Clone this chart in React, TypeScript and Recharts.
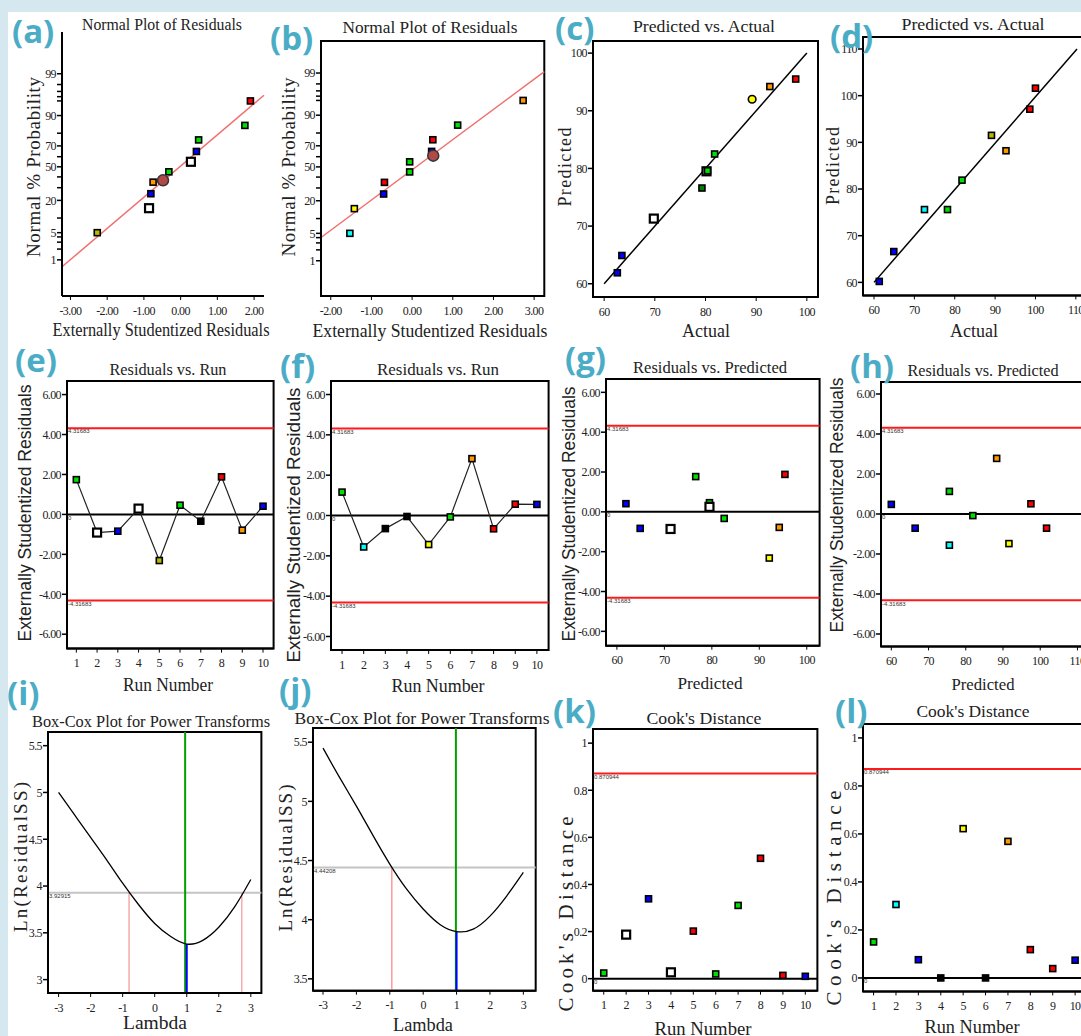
import React from 'react';
import { ComposedChart, Scatter, Line, XAxis, YAxis, ReferenceLine, ReferenceArea } from 'recharts';

const serif = '"Liberation Serif", "Times New Roman", serif';
const sans = '"Liberation Sans", Arial, sans-serif';

const C: Record<string, string> = {
  blue: '#0000ff', green: '#00e000', dgreen: '#008000', red: '#ff0000', orange: '#ff9900',
  yellow: '#ffff00', olive: '#b8b800', cyan: '#00ffff', white: '#ffffff', black: '#000000',
};

// ---- data ----
const probPct = [5, 15, 25, 35, 45, 55, 65, 75, 85, 95];

const aResid = [-2.27, -0.86, -0.81, -0.75, -0.32, 0.28, 0.43, 0.49, 1.75, 1.9];
const aColors = ['olive', 'white', 'blue', 'orange', 'green', 'white', 'blue', 'green', 'green', 'red'];
const aKinds = ['s', 'b', 's', 's', 's', 'b', 's', 's', 's', 's'];
const aHighlight = { x: -0.48, p: 36.7 };
const aFit = [{ x: -3.23, z: -2.5 }, { x: 2.27, z: 1.79 }];

const bResid = [-1.53, -1.42, -0.7, -0.68, -0.06, -0.06, 0.48, 0.51, 1.12, 2.73];
const bColors = ['cyan', 'yellow', 'blue', 'red', 'green', 'green', 'blue', 'red', 'green', 'orange'];
const bHighlight = { x: 0.52, p: 61 };
const bFit = [{ x: -2.24, z: -1.75 }, { x: 3.25, z: 2.36 }];

const cActual = [62.6, 63.5, 69.8, 79.3, 80.2, 80.4, 81.8, 89.2, 92.7, 97.8];
const cPred = [61.9, 64.9, 71.3, 76.6, 79.5, 79.6, 82.5, 92.0, 94.2, 95.5];
const cColors = ['blue', 'blue', 'white', 'dgreen', 'white', 'green', 'green', 'yellow', 'orange', 'red'];
const cKinds = ['s', 's', 'b', 's', 'b', 's', 's', 'c', 's', 's'];

const dActual = [61.3, 64.9, 72.5, 78.2, 81.8, 89.1, 92.7, 98.6, 100.0];
const dPred = [60.2, 66.6, 75.6, 75.6, 81.9, 91.5, 88.2, 97.1, 101.6];
const dColors = ['blue', 'blue', 'cyan', 'green', 'green', 'olive', 'orange', 'red', 'red'];

const runs = [1, 2, 3, 4, 5, 6, 7, 8, 9, 10];
const eResid = [1.74, -0.91, -0.84, 0.29, -2.31, 0.46, -0.34, 1.88, -0.79, 0.41];
const eColors = ['green', 'white', 'blue', 'white', 'olive', 'green', 'black', 'red', 'orange', 'blue'];
const eKinds = ['s', 'b', 's', 'b', 's', 's', 's', 's', 's', 's'];

const fResid = [1.16, -1.56, -0.65, -0.05, -1.44, -0.07, 2.82, -0.66, 0.56, 0.55];
const fColors = ['green', 'cyan', 'black', 'black', 'yellow', 'green', 'orange', 'red', 'red', 'blue'];

const gPred = [61.9, 64.9, 71.3, 76.6, 79.5, 79.5, 82.6, 92.1, 94.2, 95.4];
const gResid = [0.41, -0.83, -0.86, 1.77, 0.46, 0.25, -0.33, -2.32, -0.78, 1.88];
const gColors = ['blue', 'blue', 'white', 'green', 'green', 'white', 'green', 'yellow', 'orange', 'red'];
const gKinds = ['s', 's', 'b', 's', 's', 'b', 's', 's', 's', 's'];

const hPred = [60.0, 66.4, 75.6, 75.6, 81.9, 88.3, 91.6, 97.5, 101.7];
const hResid = [0.48, -0.71, 1.13, -1.56, -0.08, 2.78, -1.48, 0.51, -0.71];
const hColors = ['blue', 'blue', 'green', 'cyan', 'green', 'orange', 'yellow', 'red', 'red'];

const lambdas = [-3, -2.5, -2, -1.5, -1, -0.5, 0, 0.5, 1, 1.5, 2, 2.5, 3];
const iLnSS = [5.0, 4.76, 4.52, 4.28, 4.03, 3.8, 3.6, 3.46, 3.38, 3.42, 3.56, 3.78, 4.07];
const jLnSS = [5.45, 5.2, 4.96, 4.71, 4.47, 4.26, 4.09, 3.96, 3.9, 3.92, 4.03, 4.2, 4.4];

const kCook = [0.024, 0.187, 0.339, 0.027, 0.202, 0.02, 0.311, 0.511, 0.014, 0.01];
const kColors = ['green', 'white', 'blue', 'white', 'red', 'green', 'green', 'red', 'red', 'blue'];
const kKinds = ['s', 'b', 's', 'b', 's', 's', 's', 's', 's', 's'];

const lCook = [0.15, 0.306, 0.076, 0.0, 0.622, 0.0, 0.569, 0.118, 0.039, 0.074];
const lColors = ['green', 'cyan', 'blue', 'black', 'yellow', 'black', 'orange', 'red', 'red', 'blue'];

const probTicks = [1, 2, 3, 4, 5, 10, 20, 30, 40, 50, 60, 70, 80, 90, 95, 96, 97, 98, 99];
const probLabels = [1, 5, 20, 50, 70, 90, 99];
const limitT = 4.31683;
const cookLimit = 0.870944;

// approx. inverse normal (percent -> z)
const probit = (pct: number) => {
  const p = pct / 100;
  return 4.91 * (Math.pow(p, 0.14) - Math.pow(1 - p, 0.14));
};

const pts = (xs: number[], ys: number[], colors: string[], kinds?: string[]) =>
  xs.map((x, i) => ({ x, y: ys[i], color: C[colors[i]], kind: kinds ? kinds[i] : 's' }));

const Marker = (props: any) => {
  const { cx, cy, payload } = props;
  if (cx == null || cy == null) return null;
  const kind = payload?.kind || 's';
  if (kind === 'hc') return <circle cx={cx} cy={cy} r={5.5} fill="#b04a48" stroke="#333" strokeWidth={1.5} />;
  if (kind === 'c') return <circle cx={cx} cy={cy} r={3.8} fill={payload.color} stroke="#000" strokeWidth={1.6} />;
  const s = kind === 'b' ? 8 : 6;
  return (
    <rect x={cx - s / 2} y={cy - s / 2} width={s} height={s} fill={payload.color}
      stroke="#000" strokeWidth={kind === 'b' ? 2.2 : 1.6} />
  );
};

const tickFont = { fontSize: 12, fill: '#222', fontFamily: serif, letterSpacing: -0.6 };
const axisLine = { stroke: '#000', strokeWidth: 2 };

type PanelProps = {
  box: [number, number, number, number];
  xDomain: [number, number];
  yDomain: [number, number];
  xTicks: number[];
  yTicks: number[];
  xFmt?: (v: number, i: number) => string;
  yFmt?: (v: number, i: number) => string;
  frame?: boolean;
  data?: any[];
  children?: React.ReactNode;
};

function Panel({ box, xDomain, yDomain, xTicks, yTicks, xFmt, yFmt, frame = true, data, children }: PanelProps) {
  const [x0, y0, x1, y1] = box;
  const YW = 45, XH = 30, MT = 5, MR = 5;
  return (
    <div style={{ position: 'absolute', left: x0 - YW, top: y0 - MT }}>
      <ComposedChart width={x1 - x0 + YW + MR} height={y1 - y0 + MT + XH} data={data}
        margin={{ top: MT, right: MR, left: 0, bottom: 0 }}>
        <XAxis type="number" dataKey="x" domain={xDomain} ticks={xTicks} allowDataOverflow interval={0}
          height={XH} tickFormatter={xFmt} tick={tickFont} tickSize={4} tickMargin={6}
          axisLine={axisLine} tickLine={{ stroke: '#000' }} />
        <YAxis type="number" dataKey="y" domain={yDomain} ticks={yTicks} allowDataOverflow interval={0}
          width={YW} tickFormatter={yFmt} tick={tickFont} tickSize={5} tickMargin={1}
          axisLine={axisLine} tickLine={{ stroke: '#000', strokeWidth: 1.5 }} />
        {frame && (
          <ReferenceArea x1={xDomain[0]} x2={xDomain[1]} y1={yDomain[0]} y2={yDomain[1]}
            fill="none" fillOpacity={0} stroke="#000" strokeWidth={2} ifOverflow="visible" />
        )}
        {children}
      </ComposedChart>
    </div>
  );
}

const smallLabel = (value: string) => ({ value, position: 'insideTopLeft' as const, fontSize: 6, fill: '#333', offset: 1, fontFamily: sans });

const probFmt = (_v: number, i: number) => (probLabels.includes(probTicks[i]) ? String(probTicks[i]) : '');
const fix2 = (v: number) => v.toFixed(2);
const plain = (v: number) => String(v);

const residLines = (withZero = true) => [
  <ReferenceLine key="up" y={limitT} stroke="#ff1a1a" strokeWidth={2} label={smallLabel('4.31683')} />,
  <ReferenceLine key="dn" y={-limitT} stroke="#ff1a1a" strokeWidth={2} label={smallLabel('-4.31683')} />,
  withZero ? <ReferenceLine key="z" y={0} stroke="#000" strokeWidth={2} label={smallLabel('0')} /> : null,
];

type TextSpec = { t: string; x: number; y: number; len: number; size: number; font: string; rot?: boolean; spaced?: boolean };

const texts: TextSpec[] = [
  { t: 'Normal Plot of Residuals', x: 162, y: 30, len: 160, size: 17, font: serif },
  { t: 'Normal Plot of Residuals', x: 430, y: 33, len: 175, size: 17, font: serif },
  { t: 'Predicted vs. Actual', x: 704, y: 32, len: 142, size: 17, font: serif },
  { t: 'Predicted vs. Actual', x: 973, y: 30, len: 143, size: 17, font: serif },
  { t: 'Residuals vs. Run', x: 168, y: 375, len: 117, size: 17, font: serif },
  { t: 'Residuals vs. Run', x: 438, y: 375, len: 122, size: 17, font: serif },
  { t: 'Residuals vs. Predicted', x: 710, y: 373, len: 154, size: 17, font: serif },
  { t: 'Residuals vs. Predicted', x: 983, y: 376, len: 151, size: 17, font: serif },
  { t: 'Box-Cox Plot for Power Transforms', x: 151, y: 727, len: 238, size: 17, font: serif },
  { t: 'Box-Cox Plot for Power Transforms', x: 422, y: 724, len: 255, size: 17, font: serif },
  { t: "Cook's Distance", x: 704, y: 724, len: 115, size: 17, font: serif },
  { t: "Cook's Distance", x: 973, y: 717, len: 113, size: 17, font: serif },

  { t: 'Externally Studentized Residuals', x: 161, y: 336, len: 217, size: 18, font: serif },
  { t: 'Externally Studentized Residuals', x: 430, y: 337, len: 235, size: 18, font: serif },
  { t: 'Actual', x: 706, y: 337, len: 48, size: 18, font: serif },
  { t: 'Actual', x: 974, y: 337, len: 48, size: 18, font: serif },
  { t: 'Run Number', x: 168, y: 691, len: 90, size: 18, font: serif },
  { t: 'Run Number', x: 438, y: 692, len: 93, size: 18, font: serif },
  { t: 'Predicted', x: 710, y: 689, len: 65, size: 17, font: serif },
  { t: 'Predicted', x: 983, y: 690, len: 63, size: 17, font: serif },
  { t: 'Lambda', x: 155, y: 1029, len: 64, size: 18, font: serif },
  { t: 'Lambda', x: 423, y: 1031, len: 60, size: 18, font: serif },
  { t: 'Run Number', x: 703, y: 1035, len: 97, size: 18, font: serif },
  { t: 'Run Number', x: 972, y: 1033, len: 95, size: 18, font: serif },

  { t: 'Normal % Probability', x: 40, y: 167, len: 180, size: 19, font: serif, rot: true, spaced: true },
  { t: 'Normal % Probability', x: 295, y: 167, len: 179, size: 19, font: serif, rot: true, spaced: true },
  { t: 'Predicted', x: 571, y: 167, len: 79, size: 18, font: serif, rot: true, spaced: true },
  { t: 'Predicted', x: 839, y: 166, len: 78, size: 18, font: serif, rot: true, spaced: true },
  { t: 'Externally Studentized Residuals', x: 31, y: 513, len: 257, size: 17.5, font: sans, rot: true },
  { t: 'Externally Studentized Residuals', x: 300, y: 525, len: 275, size: 17.5, font: sans, rot: true },
  { t: 'Externally Studentized Residuals', x: 575, y: 514, len: 255, size: 17.5, font: sans, rot: true },
  { t: 'Externally Studentized Residuals', x: 843, y: 505, len: 255, size: 17.5, font: sans, rot: true },
  { t: 'Ln(ResidualSS)', x: 27, y: 857, len: 150, size: 19, font: serif, rot: true, spaced: true },
  { t: 'Ln(ResidualSS)', x: 292, y: 858, len: 147, size: 19, font: serif, rot: true, spaced: true },
  { t: "Cook's Distance", x: 573, y: 914, len: 195, size: 21, font: serif, rot: true, spaced: true },
  { t: "Cook's Distance", x: 841, y: 898, len: 215, size: 21, font: serif, rot: true, spaced: true },
];

const letters: [string, number, number][] = [
  ['(a)', 12, 43], ['(b)', 270, 50], ['(c)', 555, 40], ['(d)', 830, 48],
  ['(e)', 15, 372], ['(f)', 280, 378], ['(g)', 565, 370], ['(h)', 850, 378],
  ['(i)', 7, 705], ['(j)', 279, 702], ['(k)', 553, 723], ['(l)', 835, 723],
];

export default function App() {
  const aPts = [...pts(aResid, probPct.map(probit), aColors, aKinds), { x: aHighlight.x, y: probit(aHighlight.p), color: '', kind: 'hc' }];
  const bPts = [...pts(bResid, probPct.map(probit), bColors), { x: bHighlight.x, y: probit(bHighlight.p), color: '', kind: 'hc' }];
  const iCurve = lambdas.map((x, i) => ({ x, y: iLnSS[i] }));
  const jCurve = lambdas.map((x, i) => ({ x, y: jLnSS[i] }));
  const zTicks = probTicks.map(probit);

  return (
    <div style={{ position: 'absolute', left: 0, top: 0, width: 1081, height: 1036, overflow: 'hidden', background: '#d5e8f0' }}>
      <div style={{ position: 'absolute', left: 8, top: 12, width: 1073, height: 1024, background: '#fff' }} />

      {/* (a) */}
      <Panel box={[62, 32, 264, 296]} xDomain={[-3.23, 2.27]} yDomain={[-3.23, 3.37]} frame={false}
        xTicks={[-3, -2, -1, 0, 1, 2]} xFmt={fix2} yTicks={zTicks} yFmt={probFmt}>
        <ReferenceLine segment={[{ x: aFit[0].x, y: aFit[0].z }, { x: aFit[1].x, y: aFit[1].z }]} stroke="#f07070" strokeWidth={1.5} ifOverflow="visible" />
        <Scatter data={aPts} shape={Marker} isAnimationActive={false} />
      </Panel>

      {/* (b) */}
      <Panel box={[320.7, 40.7, 544, 295.7]} xDomain={[-2.24, 3.25]} yDomain={[-3.2, 3.12]}
        xTicks={[-2, -1, 0, 1, 2, 3]} xFmt={fix2} yTicks={zTicks} yFmt={probFmt}>
        <ReferenceLine segment={[{ x: bFit[0].x, y: bFit[0].z }, { x: bFit[1].x, y: bFit[1].z }]} stroke="#f07070" strokeWidth={1.5} ifOverflow="visible" />
        <Scatter data={bPts} shape={Marker} isAnimationActive={false} />
      </Panel>

      {/* (c) */}
      <Panel box={[593.3, 40.7, 818.3, 296.7]} xDomain={[57.8, 102.2]} yDomain={[57.7, 102.1]}
        xTicks={[60, 70, 80, 90, 100]} yTicks={[60, 70, 80, 90, 100]} xFmt={plain} yFmt={plain}>
        <ReferenceLine segment={[{ x: 60, y: 60 }, { x: 100, y: 100 }]} stroke="#000" strokeWidth={1.5} ifOverflow="visible" />
        <Scatter data={pts(cActual, cPred, cColors, cKinds)} shape={Marker} isAnimationActive={false} />
      </Panel>

      {/* (d) */}
      <Panel box={[862.7, 37.3, 1084, 295.7]} xDomain={[57.27, 112.1]} yDomain={[57.21, 112.57]}
        xTicks={[60, 70, 80, 90, 100, 110]} yTicks={[60, 70, 80, 90, 100, 110]} xFmt={plain} yFmt={plain}>
        <ReferenceLine segment={[{ x: 60, y: 60 }, { x: 110.3, y: 110 }]} stroke="#000" strokeWidth={1.5} ifOverflow="visible" />
        <Scatter data={pts(dActual, dPred, dColors)} shape={Marker} isAnimationActive={false} />
      </Panel>

      {/* (e) */}
      <Panel box={[66.7, 380.7, 273.3, 648.3]} xDomain={[0.55, 10.51]} yDomain={[-6.72, 6.68]}
        xTicks={runs} yTicks={[-6, -4, -2, 0, 2, 4, 6]} xFmt={plain} yFmt={fix2}>
        {residLines()}
        <Scatter data={pts(runs, eResid, eColors, eKinds)} shape={Marker} line={{ stroke: '#222', strokeWidth: 1.2 }} isAnimationActive={false} />
      </Panel>

      {/* (f) */}
      <Panel box={[330.7, 381, 548.3, 650]} xDomain={[0.49, 10.54]} yDomain={[-6.67, 6.67]}
        xTicks={runs} yTicks={[-6, -4, -2, 0, 2, 4, 6]} xFmt={plain} yFmt={fix2}>
        {residLines()}
        <Scatter data={pts(runs, fResid, fColors)} shape={Marker} line={{ stroke: '#222', strokeWidth: 1.2 }} isAnimationActive={false} />
      </Panel>

      {/* (g) */}
      <Panel box={[605.7, 379.3, 819.3, 646]} xDomain={[57.7, 102.7]} yDomain={[-6.72, 6.67]}
        xTicks={[60, 70, 80, 90, 100]} yTicks={[-6, -4, -2, 0, 2, 4, 6]} xFmt={plain} yFmt={fix2}>
        {residLines()}
        <Scatter data={pts(gPred, gResid, gColors, gKinds)} shape={Marker} isAnimationActive={false} />
      </Panel>

      {/* (h) */}
      <Panel box={[880.7, 382.3, 1084, 646.7]} xDomain={[57.23, 111.84]} yDomain={[-6.62, 6.6]}
        xTicks={[60, 70, 80, 90, 100, 110]} yTicks={[-6, -4, -2, 0, 2, 4, 6]} xFmt={plain} yFmt={fix2}>
        {residLines()}
        <Scatter data={pts(hPred, hResid, hColors)} shape={Marker} isAnimationActive={false} />
      </Panel>

      {/* (i) */}
      <Panel box={[48.3, 732.3, 261.7, 993.3]} xDomain={[-3.33, 3.33]} yDomain={[2.857, 5.646]} data={iCurve}
        xTicks={[-3, -2, -1, 0, 1, 2, 3]} yTicks={[3, 3.5, 4, 4.5, 5, 5.5]} xFmt={plain} yFmt={plain}>
        <ReferenceLine y={3.92915} stroke="#c4c4c4" strokeWidth={2} label={smallLabel('3.92915')} />
        <ReferenceLine segment={[{ x: -0.8, y: 2.857 }, { x: -0.8, y: 3.92915 }]} stroke="#f08080" strokeWidth={1} ifOverflow="visible" />
        <ReferenceLine segment={[{ x: 2.72, y: 2.857 }, { x: 2.72, y: 3.92915 }]} stroke="#f08080" strokeWidth={1} ifOverflow="visible" />
        <ReferenceLine x={0.95} stroke="#00a000" strokeWidth={2} />
        <ReferenceLine segment={[{ x: 1, y: 2.857 }, { x: 1, y: 3.38 }]} stroke="#0000ff" strokeWidth={2} ifOverflow="visible" />
        <Line dataKey="y" type="natural" stroke="#000" strokeWidth={1.3} dot={false} isAnimationActive={false} />
      </Panel>

      {/* (j) */}
      <Panel box={[313.3, 728.3, 536, 991]} xDomain={[-3.3, 3.37]} yDomain={[3.4, 5.62]} data={jCurve}
        xTicks={[-3, -2, -1, 0, 1, 2, 3]} yTicks={[3.5, 4, 4.5, 5, 5.5]} xFmt={plain} yFmt={plain}>
        <ReferenceLine y={4.44208} stroke="#c4c4c4" strokeWidth={2} label={smallLabel('4.44208')} />
        <ReferenceLine segment={[{ x: -0.94, y: 3.4 }, { x: -0.94, y: 4.44208 }]} stroke="#ff9999" strokeWidth={1.5} ifOverflow="visible" />
        <ReferenceLine x={0.98} stroke="#00a000" strokeWidth={2} />
        <ReferenceLine segment={[{ x: 1, y: 3.4 }, { x: 1, y: 3.9 }]} stroke="#0000ff" strokeWidth={2} ifOverflow="visible" />
        <Line dataKey="y" type="natural" stroke="#000" strokeWidth={1.3} dot={false} isAnimationActive={false} />
      </Panel>

      {/* (k) */}
      <Panel box={[593.3, 729.3, 817.7, 991]} xDomain={[0.52, 10.54]} yDomain={[-0.051, 1.06]}
        xTicks={runs} yTicks={[0, 0.2, 0.4, 0.6, 0.8, 1]} xFmt={plain} yFmt={plain}>
        <ReferenceLine y={cookLimit} stroke="#ff1a1a" strokeWidth={2} label={smallLabel('0.870944')} />
        <ReferenceLine y={0} stroke="#000" strokeWidth={2} label={smallLabel('0')} />
        <Scatter data={pts(runs, kCook, kColors, kKinds)} shape={Marker} isAnimationActive={false} />
      </Panel>

      {/* (l) */}
      <Panel box={[862.7, 724.3, 1084, 991.7]} xDomain={[0.527, 10.41]} yDomain={[-0.056, 1.058]}
        xTicks={runs} yTicks={[0, 0.2, 0.4, 0.6, 0.8, 1]} xFmt={plain} yFmt={plain}>
        <ReferenceLine y={cookLimit} stroke="#ff1a1a" strokeWidth={2} label={smallLabel('0.870944')} />
        <ReferenceLine y={0} stroke="#000" strokeWidth={2} label={smallLabel('0')} />
        <Scatter data={pts(runs, lCook, lColors)} shape={Marker} isAnimationActive={false} />
      </Panel>

      <svg width={1081} height={1036} style={{ position: 'absolute', left: 0, top: 0, pointerEvents: 'none' }}>
        {texts.map((s, i) => (
          <text key={i} x={s.x} y={s.y} textAnchor="middle" fontFamily={s.font} fontSize={s.size} fill="#222"
            textLength={s.len} lengthAdjust={s.spaced ? 'spacing' : 'spacingAndGlyphs'}
            transform={s.rot ? `rotate(-90 ${s.x} ${s.y})` : undefined}>
            {s.t}
          </text>
        ))}
        {letters.map(([t, x, y]) => (
          <text key={t} x={x} y={y} fontFamily='"Open Sans", sans-serif' fontWeight={700} fontSize={33} fill="#4bacc6">{t}</text>
        ))}
      </svg>
    </div>
  );
}
